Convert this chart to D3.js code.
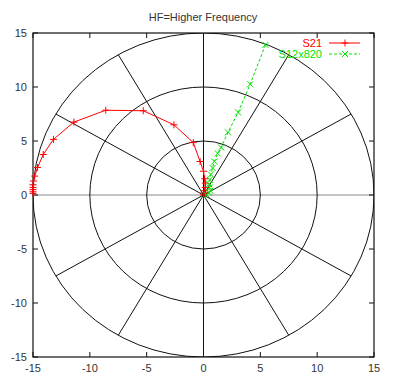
<!DOCTYPE html>
<html><head><meta charset="utf-8">
<script src="https://cdn.jsdelivr.net/npm/d3@7"></script>
<style>body{margin:0;background:#fff}text{font-family:"Liberation Sans",Arial,sans-serif}</style>
</head><body>
<svg id="c" width="400" height="386"></svg>
<script>
const title = "HF=Higher Frequency";
const ticks = [-15, -10, -5, 0, 5, 10, 15];
const ringRadii = [5, 10, 15];
const spokeAngles = [0, 30, 60, 90, 120, 150, 180, 210, 240, 270, 300, 330];
const seriesNames = ["S21", "S12x820"];
const s21x = [0.0, 0.05, 0.1, 0.15, 0.15, 0.1, 0.0, -0.3, -0.9, -2.6, -5.3, -8.6, -11.4, -13.2, -14.1, -14.6, -14.85, -14.95, -15.0, -15.0, -15.0, -15.0, -15.0];
const s21y = [0.0, 0.2, 0.4, 0.7, 1.1, 1.5, 2.2, 3.1, 4.85, 6.5, 7.8, 7.85, 6.75, 5.15, 3.75, 2.55, 1.75, 1.3, 0.95, 0.7, 0.5, 0.3, 0.15];
const s12x = [0.3, 0.5, 0.6, 0.55, 0.5, 0.55, 0.65, 0.8, 0.95, 1.25, 1.55, 2.15, 3.05, 4.1, 5.45];
const s12y = [0.0, 0.2, 0.4, 0.7, 1.0, 1.4, 1.9, 2.5, 3.1, 3.85, 4.4, 5.8, 7.65, 10.25, 13.9];

const svg = d3.select("#c");
const L = 33, R = 374, T = 33, B = 357;
const x = d3.scaleLinear().domain([-15, 15]).range([L, R]);
const y = d3.scaleLinear().domain([-15, 15]).range([B, T]);

svg.append("text").attr("x", 203).attr("y", 21).attr("text-anchor", "middle")
  .attr("font-size", 11).attr("fill", "#333").text(title);

const defs = svg.append("defs");
defs.append("clipPath").attr("id", "clip").append("rect")
  .attr("x", L).attr("y", T).attr("width", R - L).attr("height", B - T);
const g = svg.append("g").attr("clip-path", "url(#clip)");

// zero axes
g.append("line").attr("x1", x(-15)).attr("x2", x(15)).attr("y1", y(0)).attr("y2", y(0))
  .attr("stroke", "#888").attr("stroke-width", 1);
g.append("line").attr("x1", x(0)).attr("x2", x(0)).attr("y1", y(-15)).attr("y2", y(15))
  .attr("stroke", "#111").attr("stroke-width", 1);

// rings
ringRadii.forEach(r => {
  g.append("ellipse").attr("cx", x(0)).attr("cy", y(0))
    .attr("rx", x(r) - x(0)).attr("ry", y(0) - y(r))
    .attr("fill", "none").attr("stroke", "#111").attr("stroke-width", 1);
});
// spokes
spokeAngles.filter(a => a % 90 !== 0).forEach(a => {
  const t = a * Math.PI / 180;
  g.append("line").attr("x1", x(0)).attr("y1", y(0))
    .attr("x2", x(15 * Math.cos(t))).attr("y2", y(15 * Math.sin(t)))
    .attr("stroke", "#111").attr("stroke-width", 1);
});

// ticks
const tk = svg.append("g").attr("stroke", "#111").attr("stroke-width", 1);
ticks.forEach(v => {
  tk.append("line").attr("x1", x(v)).attr("x2", x(v)).attr("y1", B).attr("y2", B - 5);
  tk.append("line").attr("x1", x(v)).attr("x2", x(v)).attr("y1", T).attr("y2", T + 5);
  tk.append("line").attr("y1", y(v)).attr("y2", y(v)).attr("x1", L).attr("x2", L + 5);
  tk.append("line").attr("y1", y(v)).attr("y2", y(v)).attr("x1", R).attr("x2", R - 5);
});
ticks.forEach(v => {
  svg.append("text").attr("x", x(v)).attr("y", B + 15).attr("text-anchor", "middle")
    .attr("font-size", 11).attr("fill", "#333").text(v);
  svg.append("text").attr("x", 27).attr("y", y(v) + 4).attr("text-anchor", "end")
    .attr("font-size", 11).attr("fill", "#333").text(v);
});

// frame
svg.append("rect").attr("x", L).attr("y", T).attr("width", R - L).attr("height", B - T)
  .attr("fill", "none").attr("stroke", "#111").attr("stroke-width", 1.2);

const line = d3.line().x(d => x(d[0])).y(d => y(d[1]));
const s21 = s21x.map((v, i) => [v, s21y[i]]);
const s12 = s12x.map((v, i) => [v, s12y[i]]);
const red = "#ff0000", green = "#00e000";

function plus(sel, px, py, c) {
  sel.append("path").attr("d", `M${px-3.5},${py}H${px+3.5}M${px},${py-3.5}V${py+3.5}`)
    .attr("stroke", c).attr("stroke-width", 1).attr("fill", "none");
}
function cross(sel, px, py, c) {
  sel.append("path").attr("d", `M${px-3},${py-3}L${px+3},${py+3}M${px-3},${py+3}L${px+3},${py-3}`)
    .attr("stroke", c).attr("stroke-width", 1).attr("fill", "none");
}

const dg = svg.append("g");
dg.append("path").datum(s21).attr("d", line).attr("fill", "none").attr("stroke", red).attr("stroke-width", 1);
s21.forEach(d => plus(dg, x(d[0]), y(d[1]), red));
dg.append("path").datum(s12).attr("d", line).attr("fill", "none").attr("stroke", green)
  .attr("stroke-width", 1).attr("stroke-dasharray", "3,2");
s12.forEach(d => cross(dg, x(d[0]), y(d[1]), green));

// legend
const lg = svg.append("g");
lg.append("text").attr("x", 322).attr("y", 47).attr("text-anchor", "end").attr("font-size", 11).attr("fill", red).text(seriesNames[0]);
lg.append("line").attr("x1", 329).attr("x2", 360).attr("y1", 43).attr("y2", 43).attr("stroke", red);
plus(lg, 345, 43, red);
lg.append("text").attr("x", 322).attr("y", 58).attr("text-anchor", "end").attr("font-size", 11).attr("fill", green).text(seriesNames[1]);
lg.append("line").attr("x1", 329).attr("x2", 360).attr("y1", 54).attr("y2", 54).attr("stroke", green).attr("stroke-dasharray", "3,2");
cross(lg, 345, 54, green);
</script>
</body></html>
